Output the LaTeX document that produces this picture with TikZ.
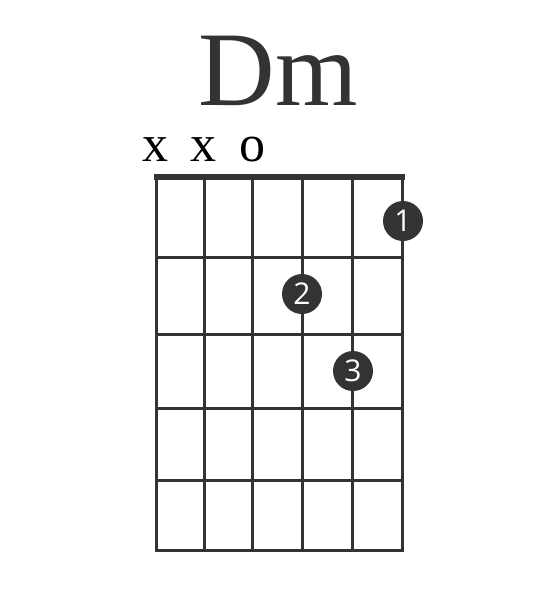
\documentclass[tikz,border=0pt]{standalone}
\usepackage{fontspec}
\setmainfont{Liberation Serif}
\newfontfamily\numfont{Open Sans}
\definecolor{ink}{HTML}{333333}
\begin{document}
\begin{tikzpicture}[x=1pt,y=-1pt,
  gridline/.style={draw=ink,line width=3pt},
  nutline/.style={draw=ink,line width=6.5pt},
  fingerdot/.style={circle,fill=ink,minimum size=40pt,inner sep=0pt,text=white,font=\numfont\fontsize{30}{30}\selectfont},
  openmark/.style={text=black,font=\fontsize{52}{52}\selectfont,inner sep=0pt,anchor=base}]
\useasboundingbox (0,0) rectangle (554,611);
% strings
\foreach \sx [count=\i] in {156,204,252,302,352,402} {
  \coordinate (s\i t) at (\sx,177);
  \coordinate (s\i b) at (\sx,551);
  \draw[gridline] (s\i t) -- (s\i b);
}
% frets
\foreach \fy [count=\j] in {257,334,408,480,550} {
  \coordinate (f\j l) at (155,\fy);
  \coordinate (f\j r) at (403.5,\fy);
  \draw[gridline] (f\j l) -- (f\j r);
}
% nut
\coordinate (nl) at (153.5,177);
\coordinate (nr) at (405,177);
\draw[nutline] (nl) -- (nr);
% title
\node[text=ink,font=\fontsize{106}{106}\selectfont,inner sep=0pt,anchor=base] (title) at (278,105) {Dm};
% open/mute marks
\node[openmark] (m1) at (155,161.5) {x};
\node[openmark] (m2) at (203,161.5) {x};
\node[openmark] (m3) at (252,161.5) {o};
% finger dots
\node[fingerdot] (d1) at (403,221) {1};
\node[fingerdot] (d2) at (302,294) {2};
\node[fingerdot] (d3) at (353,371) {3};
\end{tikzpicture}
\end{document}
